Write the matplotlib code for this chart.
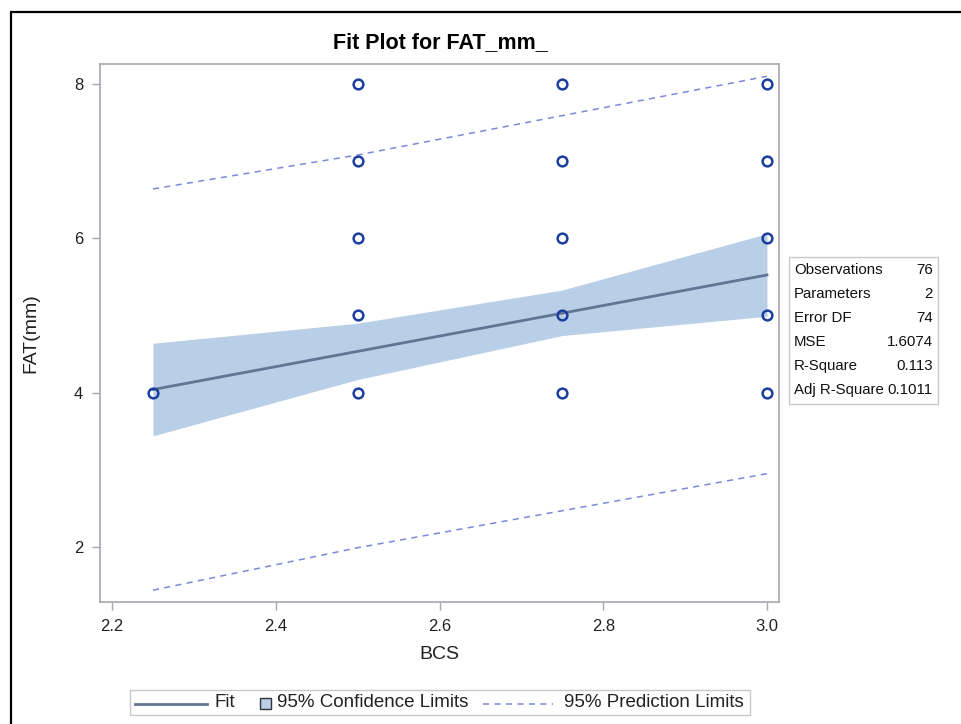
import numpy as np
import matplotlib
matplotlib.use("Agg")
import matplotlib.pyplot as plt
from matplotlib.lines import Line2D
from matplotlib.patches import Rectangle
from matplotlib.offsetbox import DrawingArea, TextArea, HPacker, AnchoredOffsetbox

# Fit values at each BCS level
bcs_levels = [2.25, 2.5, 2.75, 3.0]
fit_line = [4.04, 4.535, 5.03, 5.525]
ci_lower = [3.44, 4.17, 4.74, 4.99]
ci_upper = [4.64, 4.90, 5.33, 6.06]
pred_lower = [1.44, 1.99, 2.47, 2.95]
pred_upper = [6.64, 7.08, 7.59, 8.10]

# Observed points (distinct positions)
obs_bcs = [2.25, 2.5, 2.5, 2.5, 2.5, 2.5, 2.75, 2.75, 2.75, 2.75, 2.75,
           3.0, 3.0, 3.0, 3.0, 3.0]
obs_fat = [4, 4, 5, 6, 7, 8, 4, 5, 6, 7, 8, 4, 5, 6, 7, 8]

# Fit statistics table
stat_names = ["Observations", "Parameters", "Error DF", "MSE", "R-Square", "Adj R-Square"]
stat_values = ["76", "2", "74", "1.6074", "0.113", "0.1011"]

x_ticks = [2.2, 2.4, 2.6, 2.8, 3.0]
y_ticks = [2, 4, 6, 8]

plt.rcParams['font.family'] = ['Liberation Sans', 'DejaVu Sans']

W, H = 961, 724
fig = plt.figure(figsize=(W / 100, H / 100), dpi=100)
ax = fig.add_axes([100 / W, 1 - 602 / H, 679 / W, 538 / H])

fill_col = '#b9cfe7'
fit_col = '#637594'
pred_col = '#7b89d6'
mark_col = '#1c3e9e'
axis_col = '#a4a8b0'
txt_col = '#222222'
dash = (0, (4, 3.5))

ax.fill_between(bcs_levels, ci_lower, ci_upper, color=fill_col, lw=0, zorder=1)
ax.plot(bcs_levels, fit_line, color=fit_col, lw=2.0, zorder=2)
ax.plot(bcs_levels, pred_lower, color=pred_col, lw=1.1, ls=dash, zorder=2)
ax.plot(bcs_levels, pred_upper, color=pred_col, lw=1.1, ls=dash, zorder=2)
ax.plot(obs_bcs, obs_fat, ls='none', marker='o', ms=7, mfc='none',
        mec=mark_col, mew=1.8, zorder=3)

ax.set_xlim(2.1853, 3.0147)
ax.set_ylim(1.287, 8.259)
ax.set_xticks(x_ticks)
ax.set_xticklabels([f"{v:.1f}" for v in x_ticks])
ax.set_yticks(y_ticks)
for s in ax.spines.values():
    s.set_color(axis_col)
    s.set_linewidth(1.2)
ax.tick_params(direction='out', length=6, width=1, color=axis_col,
               labelsize=12, labelcolor=txt_col, pad=6)
ax.set_xlabel("BCS", fontsize=14, color=txt_col, labelpad=9)
ax.set_ylabel("FAT(mm)", fontsize=14, color=txt_col)
ax.yaxis.set_label_coords(-0.09, 0.5)

fig.text(440 / W, 1 - 43 / H, "Fit Plot for FAT_mm_", ha='center', va='center',
         fontsize=15.5, fontweight='bold', color='black')

# statistics box
box_l, box_r, box_t, box_b = 789, 938, 257, 404
fig.add_artist(Rectangle((box_l / W, 1 - box_b / H), (box_r - box_l) / W,
                         (box_b - box_t) / H, transform=fig.transFigure,
                         fill=False, ec='#c8c8c8', lw=1))
for i, (nm, val) in enumerate(zip(stat_names, stat_values)):
    yy = 1 - (270 + 24 * i) / H
    fig.text(794 / W, yy, nm, ha='left', va='center', fontsize=10.8, color='#111111')
    fig.text(933 / W, yy, val, ha='right', va='center', fontsize=10.8, color='#111111')

# legend built from offset boxes so each key can have its own width and spacing
leg_fs = 13.5


def gap(w):
    return DrawingArea(w, 1, 0, 0)


def label(s):
    return TextArea(s, textprops=dict(fontsize=leg_fs, color=txt_col))


da_fit = DrawingArea(52, 10, 0, 0)
da_fit.add_artist(Line2D([0, 52], [4, 4], color=fit_col, lw=2.0))
da_ci = DrawingArea(8, 10, 0, 0)
da_ci.add_artist(Rectangle((0, 0), 8, 8, fc=fill_col, ec='#333333', lw=1))
da_pi = DrawingArea(50, 10, 0, 0)
da_pi.add_artist(Line2D([0, 50], [4, 4], color=pred_col, lw=1.1, ls=dash))

row = HPacker(children=[gap(1), da_fit, gap(5), label("Fit"), gap(18),
                        da_ci, gap(4), label("95% Confidence Limits"), gap(11),
                        da_pi, gap(8), label("95% Prediction Limits"), gap(2)],
              sep=0, align='center')
leg = AnchoredOffsetbox(loc='center', child=row, pad=0.3, borderpad=0,
                        frameon=True, bbox_to_anchor=(440 / W, 1 - 702.5 / H),
                        bbox_transform=fig.transFigure)
leg.patch.set_edgecolor('#c8c8c8')
leg.patch.set_linewidth(1)
leg.patch.set_boxstyle('square', pad=0)
fig.add_artist(leg)

# outer border
fig.add_artist(Rectangle((11 / W, -0.1), 1.2, 1.1 - 12 / H, transform=fig.transFigure,
                         fill=False, ec='black', lw=1.6))

fig.savefig("out.png", dpi=100)
